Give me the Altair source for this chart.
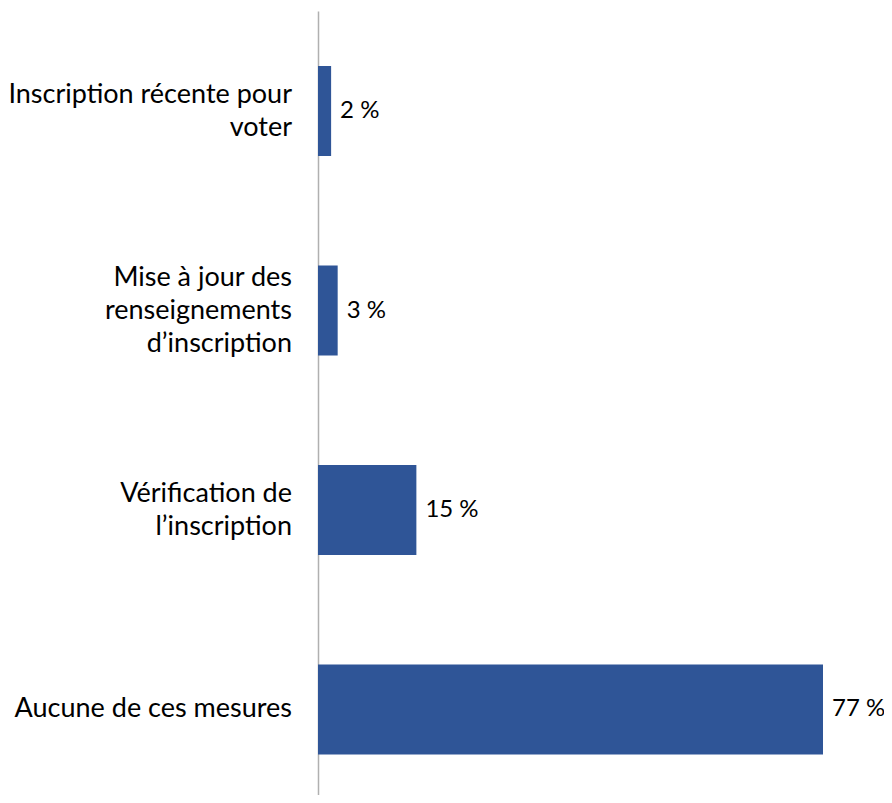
import altair as alt
import pandas as pd

categories = [
    "Inscription récente pour|voter",
    "Mise à jour des|renseignements|d’inscription",
    "Vérification de|l’inscription",
    "Aucune de ces mesures",
]
values = [2, 3, 15, 77]

df = pd.DataFrame({"cat": categories, "val": values})
df["lab"] = df["val"].astype(str) + " %"
df["nlines"] = df["cat"].str.count(r"\|") + 1

FONT = "Lato"
FS = 27
LH = 33
y = alt.Y("cat:N", sort=None, title=None,
          scale=alt.Scale(paddingInner=0.549, paddingOuter=0.2395, align=0.576),
          axis=alt.Axis(labels=False, ticks=False,
                        domainColor="#b0b0b0", domainWidth=1.5))
x = alt.X("val:Q", title=None, scale=alt.Scale(domain=[0, 77], nice=False),
          axis=None)

base = alt.Chart(df)
bars = base.mark_bar(color="#2F5597").encode(x=x, y=y)
text = base.mark_text(align="left", dx=9, fontSize=24, font=FONT,
                      color="#000000").encode(x=x, y=y, text="lab:N")

layers = [bars, text]
for n in sorted(df["nlines"].unique()):
    layers.append(
        base.transform_filter(alt.datum.nlines == int(n)).mark_text(
            align="right", baseline="middle", fontSize=FS, font=FONT,
            color="#000000", lineBreak="|", lineHeight=LH,
            dy=-(int(n) - 1) * LH / 2,
        ).encode(x=alt.value(-26), y=y, text="cat:N")
    )

chart = alt.layer(*layers).properties(
    width=505, height=784,
    autosize=alt.AutoSizeParams(type="none"),
    padding={"left": 310, "top": 3, "right": 61, "bottom": 0},
).configure_view(stroke=None)

chart.save("out.html", embed_options={"renderer": "svg", "actions": False})
